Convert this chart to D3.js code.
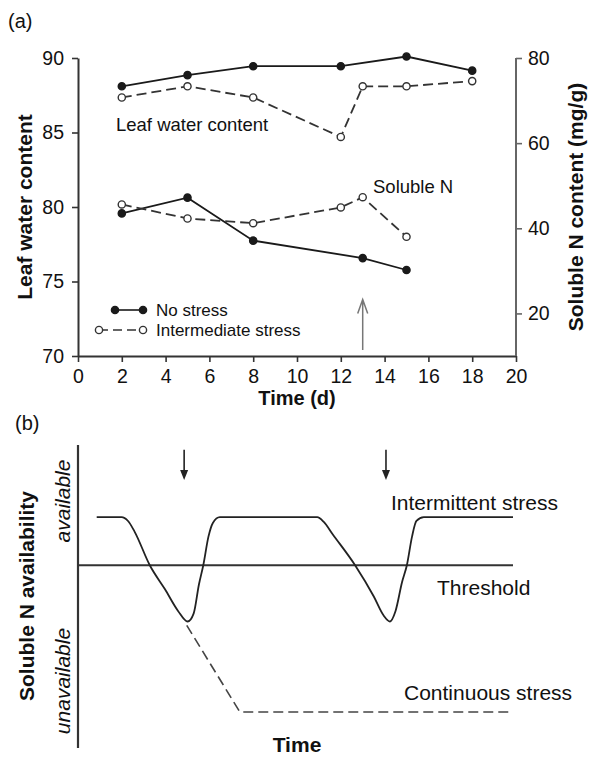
<!DOCTYPE html>
<html>
<head>
<meta charset="utf-8">
<script src="https://cdn.jsdelivr.net/npm/d3@7"></script>
<style>
  html, body { margin: 0; padding: 0; background: #fff; }
  svg { display: block; font-family: "Liberation Sans", Arial, Helvetica, sans-serif; }
</style>
</head>
<body>
<svg id="fig" width="589" height="762"></svg>
<script>
// ---- Panel (a): leaf water content and soluble N over time ----
const dayTicks = [0, 2, 4, 6, 8, 10, 12, 14, 16, 18, 20];
const waterTicks = [70, 75, 80, 85, 90];
const nTicks = [20, 40, 60, 80];

const waterNoStressDays = [2, 5, 8, 12, 15, 18];
const waterNoStress = [88.1, 88.85, 89.45, 89.45, 90.1, 89.15];
const waterIntermDays = [2, 5, 8, 12, 13, 15, 18];
const waterInterm = [87.35, 88.1, 87.35, 84.7, 88.1, 88.1, 88.45];

const nNoStressDays = [2, 5, 8, 13, 15];
const nNoStress = [43.5, 47.2, 37.1, 33.0, 30.2];
const nIntermDays = [2, 5, 8, 12, 13, 15];
const nInterm = [45.6, 42.3, 41.2, 44.9, 47.3, 38.0];

const stressDay = 13;

// ---- Panel (b): conceptual soluble N availability ----
const intermittentTime = [4.3, 10, 11.5, 13, 16.5, 20, 23, 25.2, 26.6, 27.8, 28.8, 30, 31, 32.6,
  55, 56.5, 58.5, 63.7, 68, 70.3, 71.7, 73, 74.5, 75.6, 76.8, 77.8, 79.5, 100];
const intermittentLevel = [1, 1, 0.92, 0.7, 0, -0.5, -0.95, -1.17, -1.0, -0.4, 0, 0.6, 0.88, 1,
  1, 0.9, 0.65, 0, -0.65, -1.05, -1.17, -0.95, -0.35, 0, 0.6, 0.92, 1, 1];
const continuousTime = [25.0, 37.2, 100];
const continuousLevel = [-1.25, -3.05, -3.05];
const thresholdTime = [0, 100];
const thresholdLevel = [0, 0];
const reliefTimes = [24.4, 70.8];

const svg = d3.select("#fig");
const ink = "#1a1a1a";

// scales for panel (a)
const x = d3.scaleLinear().domain([0, 20]).range([78, 516]);
const yL = d3.scaleLinear().domain([70, 90]).range([356, 58]);
const yR = d3.scaleLinear().domain([10, 80]).range([356, 58]);

const tickFont = 19.5;

function styleAxis(g, color) {
  g.selectAll("path.domain").attr("stroke", color).attr("stroke-width", 2);
  g.selectAll(".tick line").attr("stroke", color).attr("stroke-width", 1.6);
  g.selectAll(".tick text").attr("fill", "#111").style("font-size", tickFont + "px")
    .style("font-family", '"Liberation Sans", Arial, sans-serif');
}

const gx = svg.append("g").attr("transform", `translate(0,${yL(70)})`)
  .call(d3.axisBottom(x).tickValues(dayTicks).tickFormat(d3.format("d"))
    .tickSizeInner(6).tickSizeOuter(0).tickPadding(7));
styleAxis(gx, "#333");

const gyL = svg.append("g").attr("transform", `translate(${x(0)},0)`)
  .call(d3.axisLeft(yL).tickValues(waterTicks).tickSizeInner(6).tickSizeOuter(0).tickPadding(8));
styleAxis(gyL, "#333");

const gyR = svg.append("g").attr("transform", `translate(${x(20)},0)`)
  .call(d3.axisRight(yR).tickValues(nTicks).tickSizeInner(6).tickSizeOuter(0).tickPadding(6));
gyR.select("path.domain").attr("d", `M0,${yR(80)}V${yL(70)}`);
styleAxis(gyR, "#666");

// series drawing helper
function series(days, vals, yScale, filled) {
  const pts = days.map((d, i) => [x(d), yScale(vals[i])]);
  svg.append("path")
    .attr("d", d3.line()(pts))
    .attr("fill", "none")
    .attr("stroke", filled ? ink : "#333")
    .attr("stroke-width", 1.8)
    .attr("stroke-dasharray", filled ? null : "10,5");
  svg.append("g").selectAll("circle").data(pts).join("circle")
    .attr("cx", d => d[0]).attr("cy", d => d[1]).attr("r", 3.6)
    .attr("fill", filled ? ink : "#fff")
    .attr("stroke", filled ? ink : "#333")
    .attr("stroke-width", 1.4);
}

series(waterNoStressDays, waterNoStress, yL, true);
series(waterIntermDays, waterInterm, yL, false);
series(nNoStressDays, nNoStress, yR, true);
series(nIntermDays, nInterm, yR, false);

const labelFont = 18.5;
svg.append("text").attr("x", 116).attr("y", 131).text("Leaf water content")
  .style("font-size", labelFont + "px").attr("fill", "#111");
svg.append("text").attr("x", 373).attr("y", 193).text("Soluble N")
  .style("font-size", labelFont + "px").attr("fill", "#111");

// legend
const legend = [
  { name: "No stress", filled: true, x1: 115, x2: 143, y: 310 },
  { name: "Intermediate stress", filled: false, x1: 99, x2: 143, y: 330 }
];
legend.forEach(l => {
  svg.append("line").attr("x1", l.x1).attr("x2", l.x2).attr("y1", l.y).attr("y2", l.y)
    .attr("stroke", l.filled ? ink : "#333").attr("stroke-width", 1.6)
    .attr("stroke-dasharray", l.filled ? null : "9,5");
  [l.x1, l.x2].forEach(cx => {
    svg.append("circle").attr("cx", cx).attr("cy", l.y).attr("r", 3.6)
      .attr("fill", l.filled ? ink : "#fff").attr("stroke", l.filled ? ink : "#333")
      .attr("stroke-width", 1.4);
  });
  svg.append("text").attr("x", 156).attr("y", l.y + 6).text(l.name)
    .style("font-size", "17px").attr("fill", "#111");
});

// stress onset arrow
const ax = x(stressDay), aTop = yL(73.8), aBot = yL(70.4);
svg.append("path")
  .attr("d", `M${ax},${aBot}V${aTop}M${ax - 5},${aTop + 14}L${ax},${aTop}L${ax + 5},${aTop + 14}`)
  .attr("fill", "none").attr("stroke", "#777").attr("stroke-width", 1.5);

// axis titles
svg.append("text").attr("transform", `translate(32,${(yL(70) + yL(90)) / 2}) rotate(-90)`)
  .attr("text-anchor", "middle").style("font-size", "21px").style("font-weight", "bold")
  .attr("fill", "#111").text("Leaf water content");
svg.append("text").attr("transform", `translate(583,${(yL(70) + yL(90)) / 2}) rotate(-90)`)
  .attr("text-anchor", "middle").style("font-size", "21px").style("font-weight", "bold")
  .attr("fill", "#111").text("Soluble N content (mg/g)");
svg.append("text").attr("x", x(10)).attr("y", 405).attr("text-anchor", "middle")
  .style("font-size", "20px").style("font-weight", "bold").attr("fill", "#111").text("Time (d)");

svg.append("text").attr("x", 8).attr("y", 28).style("font-size", "20px").attr("fill", "#111").text("(a)");
svg.append("text").attr("x", 15).attr("y", 430).style("font-size", "20px").attr("fill", "#111").text("(b)");

// ---- panel (b) ----
const xb = d3.scaleLinear().domain([0, 100]).range([78, 513]);
const yb = d3.scaleLinear().domain([-3.8, 2.5]).range([748, 445]);

svg.append("line").attr("x1", xb(0)).attr("x2", xb(0)).attr("y1", yb(2.5)).attr("y2", yb(-3.8))
  .attr("stroke", "#333").attr("stroke-width", 2.2);

const lineB = d3.line().x(d => xb(d[0])).y(d => yb(d[1]));
svg.append("path").attr("d", lineB(thresholdTime.map((t, i) => [t, thresholdLevel[i]])))
  .attr("fill", "none").attr("stroke", "#333").attr("stroke-width", 1.8);

svg.append("path")
  .attr("d", d3.line().x(d => xb(d[0])).y(d => yb(d[1])).curve(d3.curveMonotoneX)(
    intermittentTime.map((t, i) => [t, intermittentLevel[i]])))
  .attr("fill", "none").attr("stroke", "#222").attr("stroke-width", 1.8);

svg.append("path")
  .attr("d", lineB(continuousTime.map((t, i) => [t, continuousLevel[i]])))
  .attr("fill", "none").attr("stroke", "#444").attr("stroke-width", 1.6).attr("stroke-dasharray", "10,5");

// relief arrows
reliefTimes.forEach(t => {
  const cx = xb(t), y0 = yb(2.4), y1 = yb(1.77);
  svg.append("line").attr("x1", cx).attr("x2", cx).attr("y1", y0).attr("y2", y1 - 8)
    .attr("stroke", "#222").attr("stroke-width", 1.6);
  svg.append("path").attr("d", `M${cx - 4},${y1 - 10}L${cx + 4},${y1 - 10}L${cx},${y1}Z`).attr("fill", "#222");
});

const bFont = "21px";
svg.append("text").attr("x", 391).attr("y", 510).style("font-size", bFont).attr("fill", "#111").text("Intermittent stress");
svg.append("text").attr("x", 437).attr("y", 595).style("font-size", bFont).attr("fill", "#111").text("Threshold");
svg.append("text").attr("x", 404).attr("y", 700).style("font-size", bFont).attr("fill", "#111").text("Continuous stress");
svg.append("text").attr("x", 297).attr("y", 752).attr("text-anchor", "middle")
  .style("font-size", bFont).style("font-weight", "bold").attr("fill", "#111").text("Time");

svg.append("text").attr("transform", "translate(34,596) rotate(-90)").attr("text-anchor", "middle")
  .style("font-size", bFont).style("font-weight", "bold").attr("fill", "#111").text("Soluble N availability");
svg.append("text").attr("transform", "translate(70,501) rotate(-90)").attr("text-anchor", "middle")
  .style("font-size", bFont).style("font-style", "italic").attr("fill", "#111").text("available");
svg.append("text").attr("transform", "translate(70,681) rotate(-90)").attr("text-anchor", "middle")
  .style("font-size", bFont).style("font-style", "italic").attr("fill", "#111").text("unavailable");
</script>
</body>
</html>
